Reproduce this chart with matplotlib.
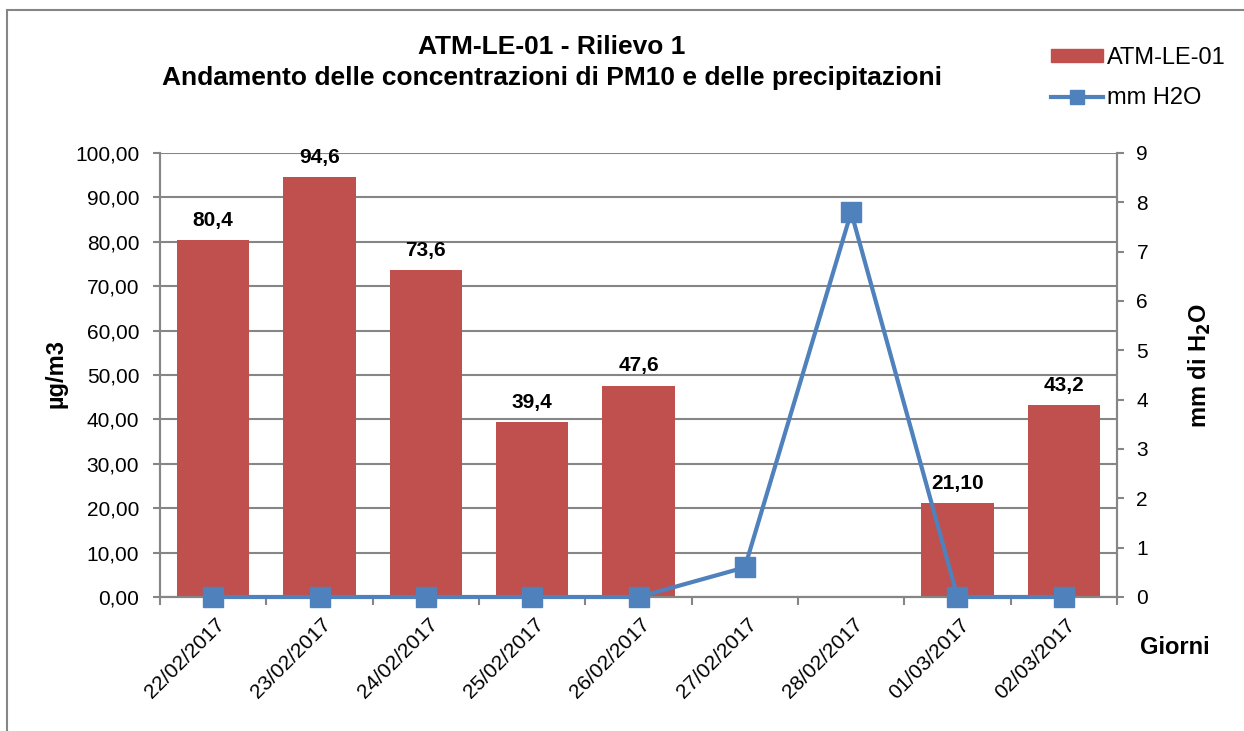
import matplotlib.pyplot as plt
import numpy as np
from matplotlib.ticker import FuncFormatter
from matplotlib.patches import Rectangle
from matplotlib.lines import Line2D

plt.rcParams['font.family'] = ['Liberation Sans', 'DejaVu Sans']

days = ['22/02/2017', '23/02/2017', '24/02/2017', '25/02/2017', '26/02/2017',
        '27/02/2017', '28/02/2017', '01/03/2017', '02/03/2017']
pm10 = [80.4, 94.6, 73.6, 39.4, 47.6, np.nan, np.nan, 21.1, 43.2]
pm10_labels = ['80,4', '94,6', '73,6', '39,4', '47,6', '', '', '21,10', '43,2']
rain = [0, 0, 0, 0, 0, 0.6, 7.8, 0, 0]

red = '#C0504D'
blue = '#4F81BD'
gray = '#868686'

fig = plt.figure(figsize=(12.44, 7.31), dpi=100)
ax = fig.add_axes([160 / 1244, 1 - 597 / 731, (1117 - 160) / 1244, (597 - 153) / 731])
ax2 = ax.twinx()

x = np.arange(len(days))
bars = ax.bar(x, pm10, width=0.68, color=red, zorder=2)
for xi, v, lab in zip(x, pm10, pm10_labels):
    if lab:
        ax.text(xi, v + 2.3, lab, ha='center', va='bottom', fontsize=15, fontweight='bold')

ax2.plot(x, rain, color=blue, lw=3, marker='s', markersize=14, clip_on=False, zorder=3)

ax.set_xlim(-0.5, len(days) - 0.5)
ax.set_ylim(0, 100)
ax2.set_ylim(0, 9)
ax.set_yticks(np.arange(0, 101, 10))
ax2.set_yticks(np.arange(0, 10, 1))
ax.yaxis.set_major_formatter(FuncFormatter(lambda v, p: f'{v:.2f}'.replace('.', ',')))
ax.grid(axis='y', color=gray, lw=1.5, zorder=0)
ax.set_axisbelow(True)

ax.set_xticks(np.arange(-0.5, len(days), 1))
ax.set_xticklabels([])
ax.set_xticks(x + 0.02, minor=True)
ax.set_xticklabels(days, minor=True, rotation=45, ha='right', rotation_mode='anchor', fontsize=15)
ax.tick_params(axis='x', which='minor', length=0, pad=13)
ax.tick_params(axis='x', which='major', length=6, color=gray, width=1.5)
ax.tick_params(axis='y', length=5, color=gray, width=1.5, labelsize=15, pad=10)
ax2.tick_params(axis='y', length=5, color=gray, width=1.5, labelsize=15, pad=9)

for a in (ax, ax2):
    a.spines['top'].set_visible(False)
    for s in ('left', 'right', 'bottom'):
        a.spines[s].set_color(gray)
        a.spines[s].set_linewidth(1.5)

fig.text(56 / 1244, 1 - 373 / 731, 'µg/m3', fontsize=17, fontweight='bold', rotation=90,
         ha='center', va='center')
fig.text(1200 / 1244, 1 - 365 / 731, 'mm di H$_\\mathbf{2}$O', fontsize=17, fontweight='bold',
         rotation=90, ha='center', va='center')
fig.text(1175 / 1244, 1 - 648 / 731, 'Giorni', fontsize=17, fontweight='bold', ha='center', va='center')

fig.text(552 / 1244, 1 - 47 / 731, 'ATM-LE-01 - Rilievo 1', fontsize=19, fontweight='bold',
         ha='center', va='center')
fig.text(552 / 1244, 1 - 78 / 731, 'Andamento delle concentrazioni di PM10 e delle precipitazioni',
         fontsize=19, fontweight='bold', ha='center', va='center')

leg_handles = [Rectangle((0, 0), 1, 1, color=red),
               Line2D([], [], color=blue, lw=3, marker='s', markersize=10)]
fig.legend(handles=leg_handles, labels=['ATM-LE-01', 'mm H2O'], loc='upper left',
           bbox_to_anchor=(1030 / 1244, 1 - 26 / 731), frameon=False, fontsize=17,
           handlelength=2.2, handleheight=0.45, handletextpad=0.15, labelspacing=0.75)

fig.patches.append(Rectangle((7 / 1244, -0.01), 1.0, 1 - 10 / 731 + 0.01, transform=fig.transFigure,
                             fill=False, edgecolor=gray, lw=1.5))

fig.savefig('out.png', dpi=100)
